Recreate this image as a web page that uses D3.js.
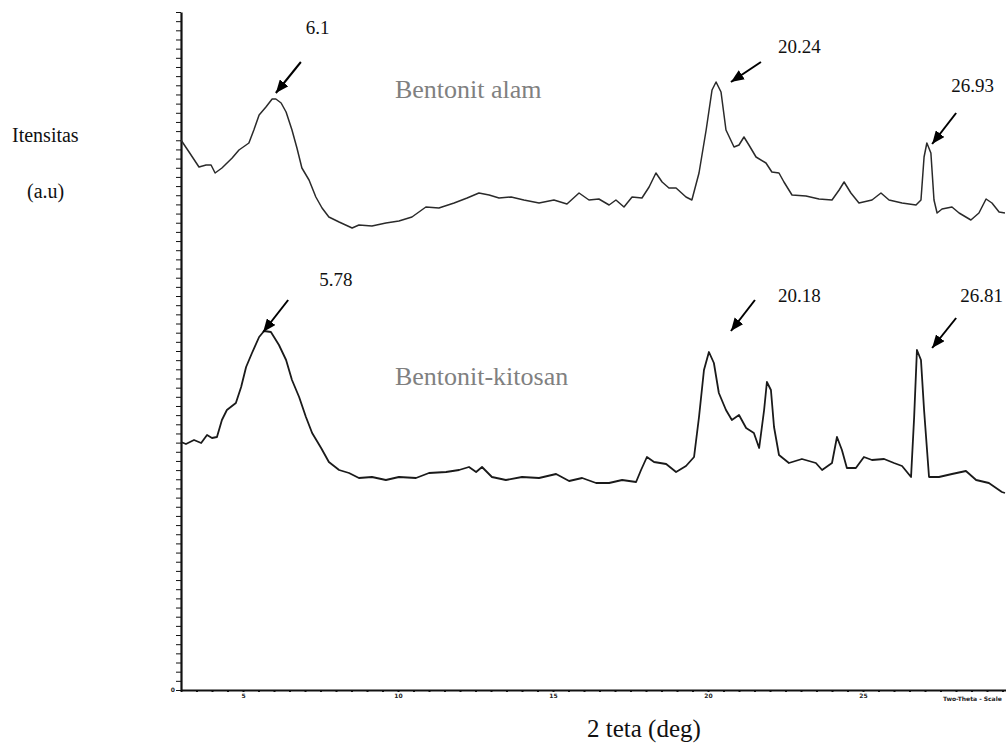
<!DOCTYPE html>
<html lang="en">
<head>
<meta charset="UTF-8">
<title>XRD Bentonit alam vs Bentonit-kitosan</title>
<script src="https://d3js.org/d3.v7.min.js"></script>
<style>
    body { margin: 0; background: #fff; }
    text { font-family: "Liberation Serif", "Times New Roman", serif; }
    .axis path, .axis line { stroke: #111; }
    .tick-label { font-family: "DejaVu Sans", sans-serif; font-weight: bold; font-size: 6px; fill: #222; }
</style>
</head>
<body>
<div id="chart"></div>
<script>
    // 2 theta (deg) / intensity (a.u.)
    const alamTheta = [3.0, 3.26, 3.58, 3.81, 3.97, 4.10, 4.32, 4.65, 4.87, 5.10, 5.19, 5.35, 5.52, 5.74, 5.94, 6.06,
        6.23, 6.39, 6.58, 6.74, 6.90, 7.13, 7.35, 7.55, 7.77, 8.10, 8.52, 8.74, 9.16, 9.61, 10.03, 10.45, 10.90, 11.32,
        11.81, 12.23, 12.61, 12.94, 13.26, 13.65, 14.06, 14.55, 15.03, 15.45, 15.84, 16.16, 16.48, 16.81, 17.03, 17.29,
        17.55, 17.87, 18.10, 18.32, 18.52, 18.74, 18.97, 19.29, 19.48, 19.71, 19.94, 20.13, 20.26, 20.42, 20.58, 20.84,
        21.00, 21.16, 21.32, 21.55, 21.87, 22.06, 22.29, 22.45, 22.71, 23.16, 23.58, 24.00, 24.23, 24.39, 24.61, 24.87,
        25.29, 25.58, 25.84, 26.26, 26.71, 26.87, 26.97, 27.06, 27.19, 27.29, 27.39, 27.55, 27.87, 28.10, 28.48, 28.74,
        28.97, 29.16, 29.39, 29.58];
    const alamIntensity = [1100, 1076, 1046, 1050, 1050, 1034, 1044, 1064, 1080, 1090, 1094, 1120, 1150, 1166, 1182, 1182,
        1174, 1156, 1120, 1084, 1044, 1020, 986, 964, 946, 936, 924, 930, 928, 934, 938, 946, 966, 964,
        974, 984, 994, 990, 984, 986, 980, 974, 980, 972, 994, 980, 982, 970, 980, 966,
        986, 984, 1006, 1034, 1016, 1004, 1004, 986, 980, 1034, 1120, 1200, 1216, 1196, 1120, 1086,
        1090, 1106, 1090, 1066, 1054, 1036, 1034, 1016, 990, 988, 982, 980, 1000, 1016, 994, 974,
        980, 994, 980, 974, 970, 980, 1066, 1094, 1074, 980, 954, 962, 966, 954, 940, 954,
        982, 974, 956, 954];

    const kitosanTheta = [3.0, 3.16, 3.42, 3.65, 3.84, 4.00, 4.16, 4.32, 4.48, 4.77, 4.94, 5.10, 5.29, 5.52, 5.68, 5.90,
        6.00, 6.16, 6.39, 6.58, 6.81, 7.03, 7.23, 7.52, 7.77, 8.10, 8.42, 8.74, 9.16, 9.61, 10.03, 10.58, 11.00, 11.55,
        11.97, 12.29, 12.52, 12.71, 13.03, 13.48, 14.00, 14.55, 15.10, 15.52, 15.94, 16.39, 16.81, 17.23, 17.68, 17.84,
        18.03, 18.26, 18.65, 18.97, 19.29, 19.55, 19.71, 19.87, 20.03, 20.19, 20.35, 20.58, 20.77, 21.00, 21.23, 21.48,
        21.65, 21.81, 21.90, 22.03, 22.13, 22.29, 22.61, 23.03, 23.48, 23.68, 24.00, 24.16, 24.32, 24.48, 24.77, 25.03,
        25.29, 25.68, 26.00, 26.26, 26.55, 26.65, 26.74, 26.87, 26.97, 27.13, 27.45, 27.87, 28.32, 28.65, 29.06, 29.48,
        29.58];
    const kitosanIntensity = [496, 492, 500, 494, 510, 504, 506, 540, 560, 574, 606, 646, 674, 706, 718, 716,
        706, 690, 660, 620, 586, 546, 514, 484, 456, 440, 434, 424, 426, 420, 426, 424, 434, 436,
        440, 446, 436, 446, 426, 420, 426, 424, 432, 418, 424, 414, 414, 420, 416, 440,
        466, 456, 452, 436, 448, 466, 546, 640, 676, 654, 594, 560, 540, 550, 524, 514,
        484, 560, 616, 600, 526, 470, 454, 462, 454, 440, 454, 506, 480, 444, 444, 466,
        460, 462, 454, 448, 426, 546, 680, 660, 560, 426, 426, 432, 438, 420, 414, 396,
        394];

    const seriesNames = ["Bentonit alam", "Bentonit-kitosan"];
    const peakLabels = ["6.1", "20.24", "26.93", "5.78", "20.18", "26.81"];
    const peakTheta = [6.06, 20.74, 27.23, 5.65, 20.74, 27.23];
    const peakIntensity = [1194, 1216, 1092, 716, 718, 684];
    const xTickLabels = [5, 10, 15, 20, 25];

    const width = 1006, height = 750;

    const x = d3.scaleLinear().domain([3, 30]).range([181, 1018]);
    const y = d3.scaleLinear().domain([0, 1356]).range([690, 12]);

    const svg = d3.select("#chart")
        .append("svg")
        .attr("width", width)
        .attr("height", height);

    svg.append("defs").append("marker")
        .attr("id", "head")
        .attr("markerUnits", "userSpaceOnUse")
        .attr("viewBox", "0 0 12 10")
        .attr("refX", 12)
        .attr("refY", 5)
        .attr("markerWidth", 13)
        .attr("markerHeight", 11)
        .attr("orient", "auto")
        .append("path")
        .attr("d", "M0,0 L12,5 L0,10 Z")
        .attr("fill", "#000");

    // y axis: plain line with small ticks, no labels
    const yTicks = d3.range(0, 75).map(function (i) { return i * 1356 / 74; });
    svg.append("g")
        .attr("class", "axis")
        .attr("transform", "translate(181,0)")
        .call(d3.axisLeft(y).tickValues(yTicks).tickSize(5).tickSizeOuter(0).tickFormat(""))
        .call(function (g) { g.select(".domain").attr("stroke-width", 2.2); })
        .call(function (g) { g.selectAll(".tick line").attr("stroke", "#555"); });

    // x axis: dotted minor ticks, tiny labels every 5 deg
    const xAxis = svg.append("g")
        .attr("class", "axis")
        .attr("transform", "translate(0,690)")
        .call(d3.axisBottom(x).tickValues(d3.range(3, 30.01, 0.5)).tickSize(2).tickSizeOuter(0)
            .tickFormat(function (d) { return xTickLabels.includes(d) ? d : ""; }));
    xAxis.select(".domain").attr("stroke-width", 2);
    xAxis.selectAll(".tick line").attr("stroke-width", 2);
    xAxis.selectAll(".tick text").attr("class", "tick-label").attr("dy", "0.5em");

    svg.append("text").attr("class", "tick-label")
        .attr("x", x(3) - 6).attr("y", y(0) + 2).attr("text-anchor", "end").text("0");
    svg.append("text").attr("class", "tick-label")
        .attr("x", 943).attr("y", y(0) + 11).text("Two-Theta - Scale");

    const line = d3.line()
        .x(function (d) { return x(d[0]); })
        .y(function (d) { return y(d[1]); });

    svg.append("path")
        .datum(d3.zip(alamTheta, alamIntensity))
        .attr("fill", "none")
        .attr("stroke", "#2a2a2a")
        .attr("stroke-width", 1.5)
        .attr("stroke-linejoin", "round")
        .attr("d", line);

    svg.append("path")
        .datum(d3.zip(kitosanTheta, kitosanIntensity))
        .attr("fill", "none")
        .attr("stroke", "#1a1a1a")
        .attr("stroke-width", 1.8)
        .attr("stroke-linejoin", "round")
        .attr("d", line);

    // sample names
    const namePos = [[9.9, 1184], [9.9, 610]];
    svg.selectAll(".series-name")
        .data(seriesNames)
        .enter()
        .append("text")
        .attr("class", "series-name")
        .attr("x", function (d, i) { return x(namePos[i][0]); })
        .attr("y", function (d, i) { return y(namePos[i][1]); })
        .attr("fill", "#808080")
        .style("font-size", "26px")
        .text(function (d) { return d; });

    // peak arrows and labels (pixel offsets from arrow tip)
    const arrowOffsets = [[25, -31], [30, -20], [24, -31], [25, -32], [24, -31], [24, -30]];
    const labelOffsets = [[30, -59], [47, -29], [19, -52], [56, -46], [47, -29], [28, -46]];

    peakLabels.forEach(function (label, i) {
        const tx = x(peakTheta[i]), ty = y(peakIntensity[i]);
        svg.append("line")
            .attr("x1", tx + arrowOffsets[i][0])
            .attr("y1", ty + arrowOffsets[i][1])
            .attr("x2", tx)
            .attr("y2", ty)
            .attr("stroke", "#000")
            .attr("stroke-width", 2)
            .attr("marker-end", "url(#head)");
        svg.append("text")
            .attr("x", tx + labelOffsets[i][0])
            .attr("y", ty + labelOffsets[i][1])
            .attr("fill", "#111")
            .style("font-size", "19px")
            .text(label);
    });

    // axis titles
    svg.append("text").attr("x", 12).attr("y", 142).attr("fill", "#111")
        .style("font-size", "20px").text("Itensitas");
    svg.append("text").attr("x", 27).attr("y", 198).attr("fill", "#111")
        .style("font-size", "20px").text("(a.u)");
    svg.append("text").attr("x", 587).attr("y", 737).attr("fill", "#111")
        .style("font-size", "25px").text("2 teta (deg)");
</script>
</body>
</html>
